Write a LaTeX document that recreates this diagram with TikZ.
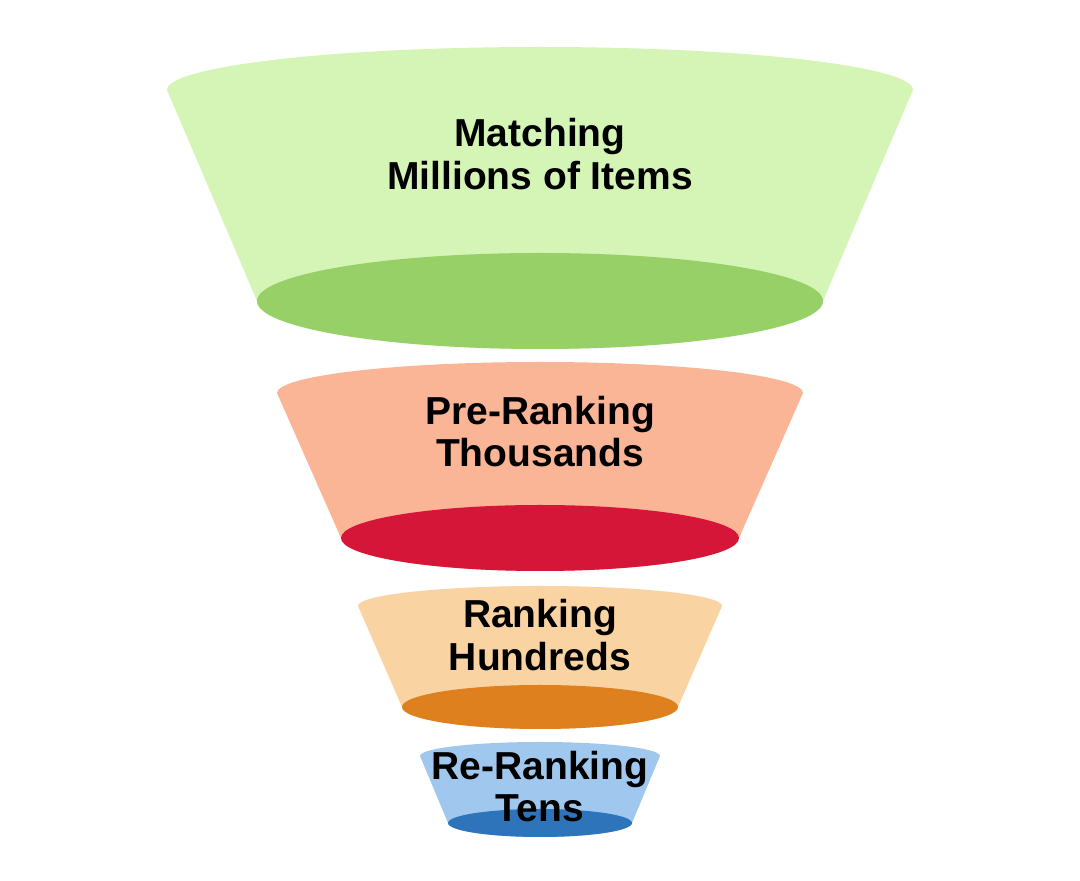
\documentclass[tikz,border=0pt]{standalone}
\usepackage{fontspec}
\setmainfont{Liberation Sans}
\definecolor{gTop}{HTML}{D5F5B6}
\definecolor{gBot}{HTML}{96D066}
\definecolor{sTop}{HTML}{FAB496}
\definecolor{sBot}{HTML}{D51638}
\definecolor{pTop}{HTML}{FAD3A3}
\definecolor{pBot}{HTML}{DE801E}
\definecolor{bTop}{HTML}{A0C8EE}
\definecolor{bBot}{HTML}{2E74BA}
\tikzset{
  lbl/.style={font=\fontsize{39}{44}\selectfont\bfseries, text=black, inner sep=0pt, anchor=base}
}
% #1 top y, #2 top rx, #3 top ry, #4 bottom y, #5 bottom rx, #6 bottom ry, #7 top colour, #8 bottom colour
\newcommand{\funnelpart}[8]{%
  \fill[#7] (540-#2,#1) arc[start angle=180, end angle=0, x radius=#2, y radius=#3]
     -- (540+#5,#4) arc[start angle=0, end angle=-180, x radius=#5, y radius=#6] -- cycle;
  \fill[#8] (540,#4) ellipse[x radius=#5, y radius=#6];
}
\begin{document}
\begin{tikzpicture}[x=1pt,y=1pt]
\useasboundingbox (0,0) rectangle (1080,881);
\funnelpart{791}{373}{43}{580}{283}{48}{gTop}{gBot}
\funnelpart{488}{263}{31}{343}{199}{33}{sTop}{sBot}
\funnelpart{275}{182}{20}{174}{138}{22}{pTop}{pBot}
\funnelpart{125}{120}{14}{58}{92}{14}{bTop}{bBot}
\node[lbl] (m1) at (540,881-147) {Matching};
\node[lbl] (m2) at (540,881-190) {Millions of Items};
\node[lbl] (p1) at (540,881-425) {Pre-Ranking};
\node[lbl] (p2) at (540,881-467) {Thousands};
\node[lbl] (r1) at (540,881-628) {Ranking};
\node[lbl] (r2) at (540,881-671) {Hundreds};
\node[lbl] (e1) at (540,881-780) {Re-Ranking};
\node[lbl] (e2) at (540,881-822) {Tens};
\end{tikzpicture}
\end{document}
